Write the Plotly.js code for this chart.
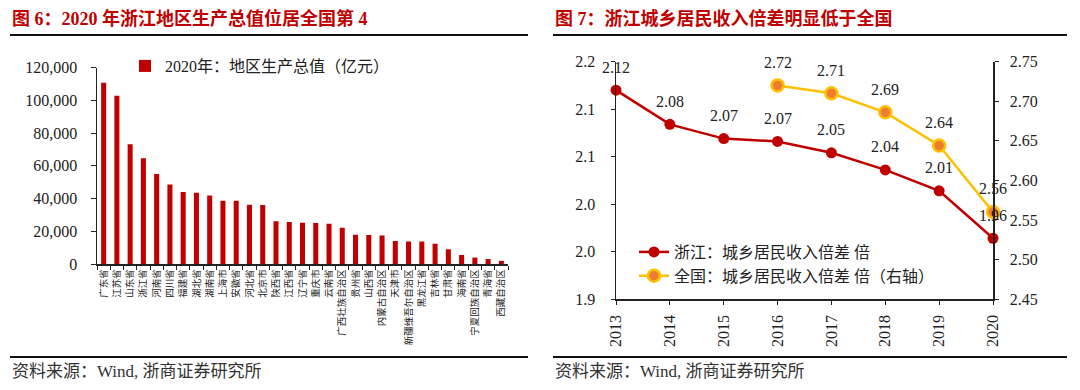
<!DOCTYPE html>
<html>
<head>
<meta charset="utf-8">
<script src="https://cdn.plot.ly/plotly-3.0.1.min.js"></script>
<style>html,body{margin:0;padding:0;background:#fff;}#chart{width:1080px;height:390px;}</style>
</head>
<body>
<div id="chart"></div>
<script>
// ---- Left chart data: 2020 GDP by province (亿元) ----
const provinces = ['广东省','江苏省','山东省','浙江省','河南省','四川省','福建省','湖北省','湖南省','上海市','安徽省','河北省','北京市','陕西省','江西省','辽宁省','重庆市','云南省','广西壮族自治区','贵州省','山西省','内蒙古自治区','天津市','新疆维吾尔自治区','黑龙江省','吉林省','甘肃省','海南省','宁夏回族自治区','青海省','西藏自治区'];
const gdp2020 = [110761,102719,73129,64613,54997,48599,43904,43443,41782,38701,38681,36207,36103,26182,25692,25115,25003,24522,22157,17827,17652,17360,14084,13798,13699,12311,9017,5532,3921,3006,1903];
const barSeriesName = '2020年：地区生产总值（亿元）';

// ---- Right chart data: urban-rural income ratio ----
const years = ['2013','2014','2015','2016','2017','2018','2019','2020'];
const zjRatio = [2.12,2.084,2.069,2.066,2.054,2.036,2.014,1.964];
const natYears = ['2016','2017','2018','2019','2020'];
const natRatio = [2.72,2.71,2.686,2.644,2.56];
const zjName = '浙江：城乡居民收入倍差 倍';
const natName = '全国：城乡居民收入倍差 倍（右轴）';
const leftTickVals = [1.90,1.95,2.00,2.05,2.10,2.15];
const leftTickText = ['1.9','2.0','2.0','2.1','2.1','2.2'];

const title1 = '图 6：2020 年浙江地区生产总值位居全国第 4';
const title2 = '图 7：浙江城乡居民收入倍差明显低于全国';
const sourceText = '资料来源：Wind, 浙商证券研究所';

const W = 1080, H = 390;
const px = v => v / W;
const py = v => 1 - v / H;
const FONT = '"Liberation Serif", "Noto Sans CJK SC", serif';
const RED = '#C00000';

const traces = [
  {type:'bar', x: provinces, y: gdp2020, name: barSeriesName, marker:{color: RED},
   xaxis:'x', yaxis:'y', legend:'legend', hoverinfo:'skip'},
  {type:'scatter', mode:'lines+markers', x: years, y: zjRatio, name: zjName,
   line:{color: RED, width:2.5}, marker:{color: RED, size:11},
   xaxis:'x2', yaxis:'y2', legend:'legend2', cliponaxis:false},
  {type:'scatter', mode:'lines+markers', x: natYears, y: natRatio, name: natName,
   line:{color:'#FFC000', width:2.5}, marker:{color:'#ED7D31', size:12, line:{color:'#FFC000', width:2.5}},
   xaxis:'x2', yaxis:'y3', legend:'legend2', cliponaxis:false}
];

const annotations = [];
zjRatio.forEach((v,i)=>annotations.push({x: i, y: v, xref:'x2', yref:'y2', text: v.toFixed(2),
  showarrow:false, yshift:23, font:{family:FONT, size:16, color:'#222'}}));
natRatio.forEach((v,i)=>annotations.push({x: years.indexOf(natYears[i]), y: v, xref:'x2', yref:'y3', text: v.toFixed(2),
  showarrow:false, yshift:23, font:{family:FONT, size:16, color:'#222'}}));
annotations.push({xref:'paper', yref:'paper', x: px(10), y: py(18), xanchor:'left', yanchor:'middle',
  text:'<b>'+title1+'</b>', showarrow:false, font:{family:FONT, size:18, color:RED}});
annotations.push({xref:'paper', yref:'paper', x: px(553), y: py(18), xanchor:'left', yanchor:'middle',
  text:'<b>'+title2+'</b>', showarrow:false, font:{family:FONT, size:18, color:RED}});
annotations.push({xref:'paper', yref:'paper', x: px(10), y: py(371), xanchor:'left', yanchor:'middle',
  text: sourceText, showarrow:false, font:{family:FONT, size:17, color:'#333'}});
annotations.push({xref:'paper', yref:'paper', x: px(553), y: py(371), xanchor:'left', yanchor:'middle',
  text: sourceText, showarrow:false, font:{family:FONT, size:17, color:'#333'}});

const lineShape = (x0,x1,y)=>({type:'line', xref:'paper', yref:'paper', x0:px(x0), x1:px(x1), y0:py(y), y1:py(y),
  line:{color:'#111', width:2}});

const axisCommon = {showline:true, linecolor:'#222', linewidth:1.5, ticks:'outside', tickcolor:'#222',
  ticklen:4, showgrid:false, zeroline:false, fixedrange:true};

const layout = {
  width: W, height: H, margin:{l:0,r:0,t:0,b:0}, paper_bgcolor:'#fff', plot_bgcolor:'#fff',
  font:{family:FONT, color:'#222'}, bargap:0.62, showlegend:true,
  xaxis: Object.assign({}, axisCommon, {domain:[px(97), px(508)], anchor:'y', tickson:'boundaries',
    ticklen:4, tickangle:-90, tickfont:{family:'"Noto Sans CJK SC", sans-serif', size:9.5, color:'#222'},
    ticklabelstandoff:0}),
  yaxis: Object.assign({}, axisCommon, {domain:[py(264), py(67.5)], anchor:'x', range:[0,120000], dtick:20000,
    tickformat:',d', tickfont:{family:FONT, size:16, color:'#222'}, ticklen:5, ticklabelstandoff:10}),
  xaxis2: Object.assign({}, axisCommon, {domain:[px(616), px(993)], anchor:'y2', type:'category',
    range:[0,7], tickangle:-90, tickfont:{family:FONT, size:16, color:'#222'}, ticklabelstandoff:4}),
  yaxis2: Object.assign({}, axisCommon, {domain:[py(299), py(61.7)], anchor:'x2', range:[1.90,2.15],
    tickvals:leftTickVals, ticktext:leftTickText, tickfont:{family:FONT, size:16, color:'#222'}, ticklabelstandoff:12}),
  yaxis3: Object.assign({}, axisCommon, {domain:[py(299), py(61.7)], anchor:'x2', overlaying:'y2', side:'right',
    range:[2.45,2.75], dtick:0.05, tickformat:'.2f', tickfont:{family:FONT, size:16, color:'#222'}, ticklabelstandoff:8}),
  legend:{x:px(125), y:py(49), xanchor:'left', yanchor:'top', bgcolor:'rgba(0,0,0,0)',
    font:{family:FONT, size:16, color:'#222'}, itemclick:false, itemdoubleclick:false},
  legend2:{x:px(634), y:py(235), xanchor:'left', yanchor:'top', bgcolor:'rgba(0,0,0,0)', tracegroupgap:0,
    font:{family:FONT, size:16, color:'#222'}, itemclick:false, itemdoubleclick:false},
  annotations: annotations,
  shapes:[lineShape(10,528,35), lineShape(553,1067,35), lineShape(10,528,357), lineShape(553,1067,357)]
};

Plotly.newPlot('chart', traces, layout, {displayModeBar:false, staticPlot:true});
</script>
</body>
</html>
